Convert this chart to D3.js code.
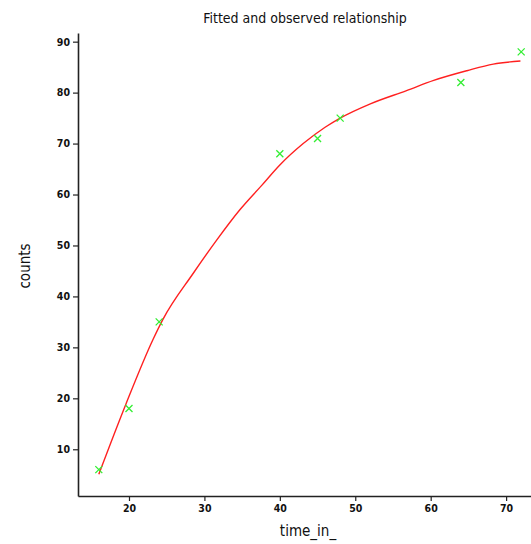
<!DOCTYPE html>
<html>
<head>
<meta charset="utf-8">
<script src="https://cdn.jsdelivr.net/npm/d3@7"></script>
<style>
  html, body { margin: 0; padding: 0; background: #fff; }
  svg { display: block; }
  text { font-family: "Liberation Sans Narrow", "DejaVu Sans Condensed", "Liberation Sans", sans-serif; fill: #111; }
</style>
</head>
<body>
<div id="chart"></div>
<script>
// Observed data
const obsX = [16, 20, 24, 40, 45, 48, 64, 72];
const obsY = [6, 18, 35, 68, 71, 75, 82, 88];

// Fitted curve
const fitX = [16, 19.6, 23.2, 24.5, 28.5, 31.6, 34.7, 37.6, 40.0, 43.1, 46.0, 48.0, 52.0, 56.8, 60.4, 64.8, 68.3, 71.9];
const fitY = [5.1, 18.9, 31.6, 35.5, 44.5, 51.0, 57.0, 61.8, 65.8, 70.0, 73.2, 75.0, 77.8, 80.4, 82.4, 84.3, 85.6, 86.2];

const xTicks = [20, 30, 40, 50, 60, 70];
const yTicks = [10, 20, 30, 40, 50, 60, 70, 80, 90];

const titleText = "Fitted and observed relationship";
const xLabel = "time_in_";
const yLabel = "counts";

const W = 531, H = 544;
const svg = d3.select("#chart").append("svg").attr("width", W).attr("height", H);

const x = d3.scaleLinear().domain([13.24, 73.3]).range([78, 531]);
const y = d3.scaleLinear().domain([0.83, 91.7]).range([496, 33]);

// Axes
const xAxis = d3.axisBottom(x).tickValues(xTicks).tickSize(5).tickSizeOuter(0).tickPadding(4);
const yAxis = d3.axisLeft(y).tickValues(yTicks).tickSize(5).tickSizeOuter(0).tickPadding(3);

const gx = svg.append("g").attr("transform", `translate(0,${y.range()[0]})`).call(xAxis);
const gy = svg.append("g").attr("transform", `translate(${x.range()[0]},0)`).call(yAxis);

[gx, gy].forEach(g => {
  g.select(".domain").attr("stroke", "#222").attr("stroke-width", 1.6);
  g.selectAll(".tick line").attr("stroke", "#222").attr("stroke-width", 1.2);
  g.selectAll(".tick text")
    .attr("font-family", '"DejaVu Sans Condensed", "Liberation Sans Narrow", sans-serif')
    .attr("font-size", 10.5).attr("font-weight", "bold").attr("fill", "#111");
});

// Fitted line
const fitData = fitX.map((v, i) => [v, fitY[i]]);
svg.append("path")
  .datum(fitData)
  .attr("fill", "none")
  .attr("stroke", "#ff2020")
  .attr("stroke-width", 1.4)
  .attr("d", d3.line().curve(d3.curveMonotoneX).x(d => x(d[0])).y(d => y(d[1])));

// Observed markers (x crosses)
const obsData = obsX.map((v, i) => [v, obsY[i]]);
const s = 3.5;
svg.append("g").selectAll("path")
  .data(obsData)
  .join("path")
  .attr("d", d => {
    const cx = x(d[0]), cy = y(d[1]);
    return `M${cx - s},${cy - s}L${cx + s},${cy + s}M${cx - s},${cy + s}L${cx + s},${cy - s}`;
  })
  .attr("stroke", "#33ee33")
  .attr("stroke-width", 1.3)
  .attr("fill", "none");

// Title
svg.append("text")
  .attr("x", 305).attr("y", 23)
  .attr("text-anchor", "middle")
  .attr("font-size", 14)
  .text(titleText);

// Axis labels
svg.append("text")
  .attr("x", 308).attr("y", 536)
  .attr("text-anchor", "middle")
  .attr("font-size", 15)
  .text(xLabel);

svg.append("text")
  .attr("transform", "translate(30,266) rotate(-90)")
  .attr("text-anchor", "middle")
  .attr("font-size", 15)
  .text(yLabel);
</script>
</body>
</html>
